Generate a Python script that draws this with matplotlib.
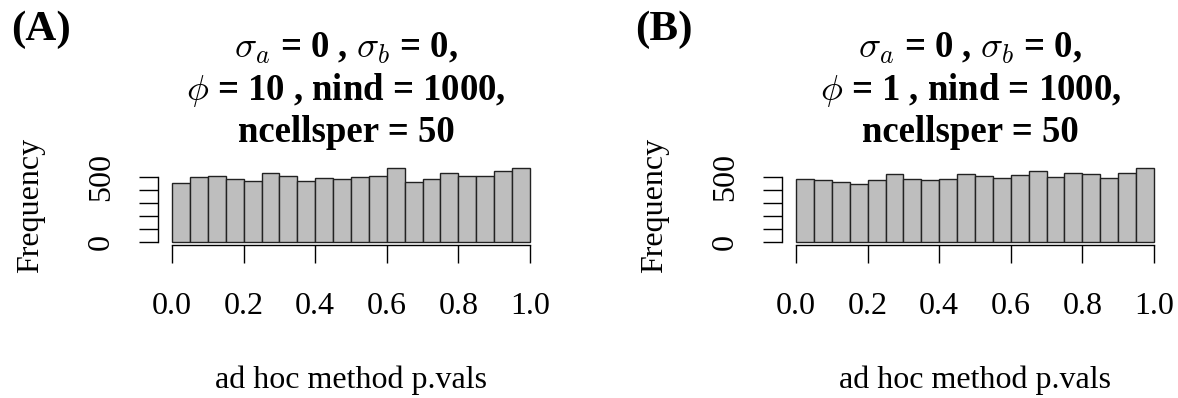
import numpy as np
import matplotlib
matplotlib.use("Agg")
import matplotlib.pyplot as plt

plt.rcParams['font.family'] = 'Liberation Serif'
plt.rcParams['mathtext.fontset'] = 'cm'

# histogram counts, 20 bins of width 0.05 on [0, 1]
bin_edges = np.linspace(0, 1, 21)
counts_a = [451, 500, 505, 482, 472, 531, 505, 467, 490, 482,
            503, 510, 569, 462, 482, 533, 505, 505, 544, 567]
counts_b = [482, 474, 459, 444, 477, 521, 487, 474, 482, 521,
            505, 490, 513, 544, 500, 533, 521, 490, 533, 569]

panel_tags = ["(A)", "(B)"]
title_lines = [
    [r"$\sigma_a$ = 0 , $\sigma_b$ = 0,", r"$\phi$ = 10 , nind = 1000,", "ncellsper = 50"],
    [r"$\sigma_a$ = 0 , $\sigma_b$ = 0,", r"$\phi$ = 1 , nind = 1000,", "ncellsper = 50"],
]
x_ticks = [0.0, 0.2, 0.4, 0.6, 0.8, 1.0]
y_ticks = [0, 100, 200, 300, 400, 500]
y_tick_labels = ["0", "", "", "", "", "500"]
xlabel = "ad hoc method p.vals"

W, H = 1178, 398
fig = plt.figure(figsize=(W / 100, H / 100), dpi=100)

# axes placement in pixels: (left, right, top, bottom)
boxes = [(157.7, 544.3, 165, 245), (781.7, 1168.3, 165, 245)]
tag_x = [11, 635]

for i, counts in enumerate([counts_a, counts_b]):
    l, r, t, b = boxes[i]
    ax = fig.add_axes([l / W, 1 - b / H, (r - l) / W, (b - t) / H])
    ax.hist(bin_edges[:-1], bins=bin_edges, weights=counts,
            color='#BEBEBE', edgecolor='#222222', linewidth=1.0)
    ymax = max(counts_a + counts_b)
    ax.set_xlim(-0.04, 1.04)
    ax.set_ylim(-0.04 * ymax, 1.04 * ymax)

    for s in ['top', 'right']:
        ax.spines[s].set_visible(False)
    ax.spines['bottom'].set_bounds(0, 1)
    ax.spines['left'].set_bounds(0, 500)
    for s in ['bottom', 'left']:
        ax.spines[s].set_linewidth(1.0)

    ax.set_xticks(x_ticks, labels=[f"{v:.1f}" for v in x_ticks])
    ax.set_yticks(y_ticks, labels=y_tick_labels)
    ax.tick_params(axis='x', length=13, width=1.0, pad=21, labelsize=23)
    ax.tick_params(axis='y', length=14, width=1.0, pad=16, labelsize=23)
    for lab in ax.get_yticklabels():
        lab.set_rotation(90)
        lab.set_va('center')

    ax.set_xlabel(xlabel, fontsize=23, labelpad=32)
    ax.set_ylabel("Frequency", fontsize=23, labelpad=30)

    cx = (l + r) / 2 / W - 0.004
    for j, line in enumerate(title_lines[i]):
        fig.text(cx, 1 - (48 + 42 * j) / H, line, ha='center', va='center',
                 fontsize=26.5, fontweight='bold')
    fig.text(tag_x[i] / W, 1 - 30 / H, panel_tags[i], ha='left', va='center',
             fontsize=31, fontweight='bold')

fig.savefig("out.png", dpi=100)
